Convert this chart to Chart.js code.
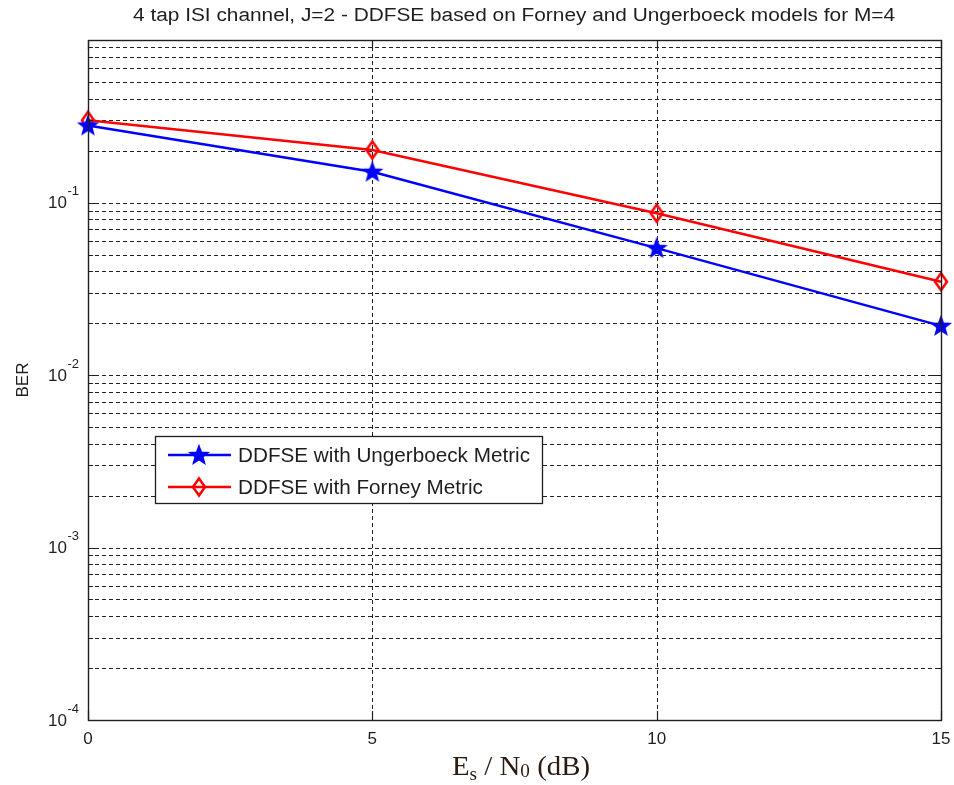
<!DOCTYPE html>
<html>
<head>
<meta charset="utf-8">
<script src="https://cdn.jsdelivr.net/npm/chart.js@4"></script>
<style>
html,body{margin:0;padding:0;background:#fff;}
#wrap{width:954px;height:785px;position:relative;}
</style>
</head>
<body>
<div id="wrap"><canvas id="c" width="954" height="785"></canvas></div>
<script>
// ---- data ----
const snrDb = [0, 5, 10, 15];
const berUngerboeck = [0.28, 0.151, 0.0545, 0.0193];
const berForney = [0.30, 0.202, 0.0868, 0.0348];
const xTickValues = [0, 5, 10, 15];
const yDecadeExponents = [-4, -3, -2, -1];
const seriesNames = ['DDFSE with Ungerboeck Metric', 'DDFSE with Forney Metric'];
const titleText = '4 tap ISI channel, J=2 - DDFSE based on Forney and Ungerboeck models for M=4';
const yAxisTitle = 'BER';

const BLUE = '#0000ff', RED = '#ff0000', INK = '#1e1e1e';
const SANS = '"Liberation Sans", Arial, sans-serif';
const SERIF = '"Liberation Serif", "Times New Roman", serif';

function makeStar(color) {
  const s = 24, c = document.createElement('canvas');
  c.width = s; c.height = s;
  const g = c.getContext('2d');
  const R = 9.5, r = 4.0, cx = s / 2, cy = s / 2 + 0.5;
  g.beginPath();
  for (let i = 0; i < 10; i++) {
    const a = -Math.PI / 2 + i * Math.PI / 5;
    const rr = i % 2 === 0 ? R : r;
    const px = cx + rr * Math.cos(a), py = cy + rr * Math.sin(a);
    if (i === 0) g.moveTo(px, py); else g.lineTo(px, py);
  }
  g.closePath();
  g.fillStyle = color; g.strokeStyle = color; g.lineWidth = 1.5; g.lineJoin = 'miter';
  g.fill(); g.stroke();
  return c;
}
function makeDiamond(color) {
  const w = 18, h = 24, c = document.createElement('canvas');
  c.width = w; c.height = h;
  const g = c.getContext('2d');
  const cx = w / 2, cy = h / 2, hw = 6, hh = 8.5;
  g.beginPath();
  g.moveTo(cx, cy - hh); g.lineTo(cx + hw, cy); g.lineTo(cx, cy + hh); g.lineTo(cx - hw, cy); g.closePath();
  g.strokeStyle = color; g.lineWidth = 2.5; g.lineJoin = 'miter'; g.stroke();
  return c;
}
const starImg = makeStar(BLUE);
const diamondImg = makeDiamond(RED);

function gridValues(y) {
  const out = [];
  for (let e = -4; e <= 0; e++) {
    for (let m = 1; m <= 9; m++) {
      const v = m * Math.pow(10, e);
      if (v > y.min * 1.0001 && v < y.max) out.push({ v, major: m === 1 });
    }
  }
  return out;
}

const decor = {
  id: 'decor',
  beforeDatasetsDraw(chart) {
    const { ctx, chartArea: a, scales: { x, y } } = chart;
    ctx.save();
    ctx.strokeStyle = '#222';
    ctx.lineWidth = 1;
    ctx.setLineDash([4, 3]);
    for (const g of gridValues(y)) {
      const py = Math.round(y.getPixelForValue(g.v)) + 0.5;
      ctx.beginPath(); ctx.moveTo(a.left, py); ctx.lineTo(a.right, py); ctx.stroke();
    }
    for (const v of xTickValues) {
      if (v <= x.min || v >= x.max) continue;
      const px = Math.round(x.getPixelForValue(v)) + 0.5;
      ctx.beginPath(); ctx.moveTo(px, a.top); ctx.lineTo(px, a.bottom); ctx.stroke();
    }
    ctx.restore();
  },
  afterDatasetsDraw(chart) {
    const { ctx, chartArea: a, scales: { x, y } } = chart;
    ctx.save();
    ctx.strokeStyle = INK; ctx.lineWidth = 1.4; ctx.setLineDash([]);
    ctx.strokeRect(Math.round(a.left) + 0.5, Math.round(a.top) + 0.5, Math.round(a.right - a.left), Math.round(a.bottom - a.top));
    ctx.lineWidth = 1.2;
    for (const g of gridValues(y)) {
      const len = g.major ? 9 : 5;
      const py = Math.round(y.getPixelForValue(g.v)) + 0.5;
      ctx.beginPath();
      ctx.moveTo(a.left, py); ctx.lineTo(a.left + len, py);
      ctx.moveTo(a.right, py); ctx.lineTo(a.right - len, py);
      ctx.stroke();
    }
    for (const v of xTickValues) {
      const px = Math.round(x.getPixelForValue(v)) + 0.5;
      ctx.beginPath();
      ctx.moveTo(px, a.bottom); ctx.lineTo(px, a.bottom - 9);
      ctx.moveTo(px, a.top); ctx.lineTo(px, a.top + 9);
      ctx.stroke();
    }
    ctx.restore();
  },
  afterDraw(chart) {
    const { ctx, chartArea: a, scales: { x, y } } = chart;
    ctx.save();
    ctx.fillStyle = INK;
    // title (fitted to width)
    ctx.font = '18px ' + SANS;
    ctx.textAlign = 'center'; ctx.textBaseline = 'alphabetic';
    const tw = ctx.measureText(titleText).width;
    ctx.save();
    ctx.translate(514, 21);
    ctx.scale(762 / tw, 1);
    ctx.fillText(titleText, 0, 0);
    ctx.restore();
    // y tick labels 10^k
    for (const e of yDecadeExponents) {
      const py = y.getPixelForValue(Math.pow(10, e));
      ctx.font = '17px ' + SANS;
      ctx.textAlign = 'right'; ctx.textBaseline = 'middle';
      ctx.fillText('10', 67, py + 1);
      ctx.font = '13px ' + SANS;
      ctx.textAlign = 'left';
      ctx.fillText(String(e), 67.5, py - 11);
    }
    // x tick labels
    ctx.font = '17px ' + SANS;
    ctx.textAlign = 'center'; ctx.textBaseline = 'middle';
    for (const v of xTickValues) {
      ctx.fillText(String(v), x.getPixelForValue(v), a.bottom + 19);
    }
    // y axis title
    ctx.save();
    ctx.translate(23, (a.top + a.bottom) / 2);
    ctx.rotate(-Math.PI / 2);
    ctx.font = '17px ' + SANS;
    ctx.textAlign = 'center'; ctx.textBaseline = 'middle';
    ctx.fillText(yAxisTitle, 0, 0);
    ctx.restore();
    // x axis title: E_s / N_0 (dB)
    const parts = [
      { t: 'E', f: '27px ' + SERIF, dy: 0 },
      { t: 's', f: '18px ' + SERIF, dy: 5 },
      { t: ' / ', f: '27px ' + SERIF, dy: 0 },
      { t: 'N', f: '27px ' + SERIF, dy: 0 },
      { t: '0', f: '18px ' + SERIF, dy: 2 },
      { t: ' (dB)', f: '27px ' + SERIF, dy: 0 }
    ];
    let total = 0;
    for (const p of parts) { ctx.font = p.f; p.w = ctx.measureText(p.t).width; total += p.w; }
    const sx = 138 / total;
    ctx.save();
    ctx.translate(452, 775);
    ctx.scale(sx, 1);
    let cx = 0;
    ctx.textAlign = 'left'; ctx.textBaseline = 'alphabetic';
    ctx.fillStyle = '#2a1a10';
    for (const p of parts) { ctx.font = p.f; ctx.fillText(p.t, cx, p.dy); cx += p.w; }
    ctx.restore();
    // legend
    ctx.fillStyle = '#fff';
    ctx.fillRect(155.5, 436.5, 387, 67);
    ctx.strokeStyle = INK; ctx.lineWidth = 1.3;
    ctx.strokeRect(155.5, 436.5, 387, 67);
    const rows = [
      { y: 455, color: BLUE, img: starImg, name: seriesNames[0] },
      { y: 487, color: RED, img: diamondImg, name: seriesNames[1] }
    ];
    ctx.font = '20px ' + SANS;
    const lw = ctx.measureText(seriesNames[0]).width;
    const lsx = 292 / lw;
    for (const r of rows) {
      ctx.strokeStyle = r.color; ctx.lineWidth = 2.5;
      ctx.beginPath(); ctx.moveTo(168, r.y); ctx.lineTo(231, r.y); ctx.stroke();
      ctx.drawImage(r.img, 199 - r.img.width / 2, r.y - r.img.height / 2);
      ctx.fillStyle = INK;
      ctx.font = '20px ' + SANS;
      ctx.textBaseline = 'middle'; ctx.textAlign = 'left';
      ctx.save();
      ctx.translate(238, r.y + 1);
      ctx.scale(lsx, 1);
      ctx.fillText(r.name, 0, 0);
      ctx.restore();
    }
    ctx.restore();
  }
};

new Chart(document.getElementById('c'), {
  type: 'line',
  data: {
    labels: snrDb,
    datasets: [
      {
        label: seriesNames[0],
        data: snrDb.map((v, i) => ({ x: v, y: berUngerboeck[i] })),
        borderColor: BLUE, backgroundColor: BLUE, borderWidth: 2.5,
        pointStyle: starImg, pointRadius: 10, pointHoverRadius: 10,
        tension: 0, clip: false
      },
      {
        label: seriesNames[1],
        data: snrDb.map((v, i) => ({ x: v, y: berForney[i] })),
        borderColor: RED, backgroundColor: RED, borderWidth: 2.5,
        pointStyle: diamondImg, pointRadius: 10, pointHoverRadius: 10,
        tension: 0, clip: false
      }
    ]
  },
  options: {
    responsive: false,
    animation: false,
    events: [],
    layout: { padding: { left: 88, right: 13, top: 40, bottom: 65 } },
    plugins: { legend: { display: false }, title: { display: false }, tooltip: { enabled: false } },
    scales: {
      x: { type: 'linear', min: 0, max: 15, display: false },
      y: { type: 'logarithmic', min: 1e-4, max: 0.877, display: false }
    }
  },
  plugins: [decor]
});
</script>
</body>
</html>
